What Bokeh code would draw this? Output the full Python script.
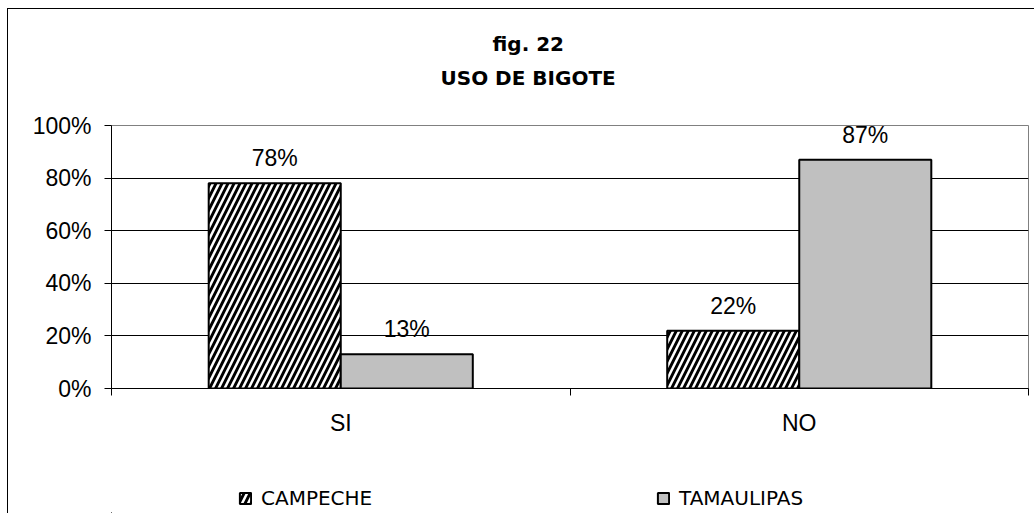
from bokeh.plotting import figure
from bokeh.layouts import column
from bokeh.models import (ColumnDataSource, FixedTicker, NumeralTickFormatter, Range1d,
                          LabelSet, Title, Legend, LegendItem)
from bokeh.core.properties import value
from bokeh.embed import file_html
from bokeh.resources import INLINE

# ---- data ----
categories = ["SI", "NO"]
series_names = ["CAMPECHE", "TAMAULIPAS"]
campeche = [0.78, 0.22]
tamaulipas = [0.13, 0.87]
y_ticks = [0, 0.2, 0.4, 0.6, 0.8, 1.0]
title_lines = ["fig. 22", "USO DE BIGOTE"]

AXIS_FONT = "Liberation Sans"
CASUAL_FONT = "DejaVu Sans"

HATCHED = dict(fill_color="black", hatch_pattern="/", hatch_color="white",
               hatch_weight=2.5, hatch_scale=12, line_color="black", line_width=2)
GREY = dict(fill_color="#C0C0C0", line_color="black", line_width=2)

W, HM, HL = 1026, 470, 34
n = len(categories)
p = figure(width=W, height=HM, output_backend="svg", toolbar_location=None,
           x_range=Range1d(0, n), y_range=Range1d(0, 1),
           min_border_left=103, min_border_right=6, min_border_top=116, min_border_bottom=91)
p.background_fill_color = "white"
p.border_fill_color = "white"
p.outline_line_color = "#808080"
p.outline_line_width = 1

bw = 0.288
centers = [i + 0.5 for i in range(n)]
fmt = lambda v: f"{round(v * 100)}%"
src_c = ColumnDataSource(dict(x=[c - bw / 2 for c in centers], top=campeche,
                              label=[fmt(v) for v in campeche]))
src_t = ColumnDataSource(dict(x=[c + bw / 2 for c in centers], top=tamaulipas,
                              label=[fmt(v) for v in tamaulipas]))

p.vbar(x="x", top="top", bottom=0, width=bw, source=src_c, **HATCHED)
p.vbar(x="x", top="top", bottom=0, width=bw, source=src_t, **GREY)

for src in (src_c, src_t):
    p.add_layout(LabelSet(x="x", y="top", text="label", source=src, text_align="center",
                          text_baseline="alphabetic", y_offset=17, text_font=value(AXIS_FONT),
                          text_font_size="23px", text_color="black"))

# x axis: labels at category centres, tick marks at category boundaries
xa = p.xaxis[0]
xa.ticker = FixedTicker(ticks=centers, minor_ticks=list(range(n + 1)))
xa.major_label_overrides = {c: lab for c, lab in zip(centers, categories)}
xa.major_tick_out = 0
xa.major_tick_in = 0
xa.minor_tick_out = 7
xa.minor_tick_in = 0
xa.minor_tick_line_color = "black"
xa.axis_line_color = "black"
xa.major_label_standoff = 14
xa.major_label_text_font = AXIS_FONT
xa.major_label_text_font_size = "23px"
xa.major_label_text_color = "black"

ya = p.yaxis[0]
ya.ticker = FixedTicker(ticks=y_ticks, minor_ticks=[])
ya.formatter = NumeralTickFormatter(format="0%")
ya.major_tick_out = 7
ya.major_tick_in = 0
ya.major_tick_line_color = "black"
ya.axis_line_color = "black"
ya.major_label_standoff = 13
ya.major_label_text_font = AXIS_FONT
ya.major_label_text_font_size = "23px"
ya.major_label_text_color = "black"

p.xgrid.visible = False
p.ygrid.ticker = FixedTicker(ticks=y_ticks[1:-1])
p.ygrid.grid_line_color = "black"
p.ygrid.grid_line_width = 1

# titles: first added sits closest to the frame (a blank spacer first)
p.add_layout(Title(text=" ", text_font_size="1px", standoff=33), "above")
p.add_layout(Title(text=title_lines[1], align="left", offset=329, standoff=0,
                   text_font=CASUAL_FONT, text_font_style="bold", text_font_size="20px",
                   text_color="black"), "above")
p.add_layout(Title(text=title_lines[0], align="left", offset=381, standoff=16,
                   text_font=CASUAL_FONT, text_font_style="bold", text_font_size="20px",
                   text_color="black"), "above")

# legend strip below the chart (same sources; its ranges keep the bars out of view)
lg = figure(width=W, height=HL, output_backend="svg", toolbar_location=None,
            x_axis_type=None, y_axis_type=None, min_border=0,
            x_range=Range1d(50, 51), y_range=Range1d(50, 51))
lg.outline_line_color = None
lg.background_fill_color = None
lg.border_fill_color = None
lg.xgrid.visible = False
lg.ygrid.visible = False
l1 = lg.vbar(x="x", top="top", bottom=0, width=bw, source=src_c, **HATCHED)
l2 = lg.vbar(x="x", top="top", bottom=0, width=bw, source=src_t, **GREY)
legend = Legend(items=[LegendItem(label=series_names[0], renderers=[l1]),
                       LegendItem(label=series_names[1], renderers=[l2])],
                orientation="horizontal", location=(127, 3), padding=0, margin=0,
                spacing=0, glyph_width=14, glyph_height=14, label_standoff=9,
                label_width=395, label_height=14, border_line_color=None,
                background_fill_alpha=0, label_text_font=CASUAL_FONT,
                label_text_font_size="20px", label_text_color="black")
lg.add_layout(legend, "center")

layout = column(p, lg, spacing=0)
layout.styles = {"margin-left": "7px", "margin-top": "8px",
                 "border-left": "1px solid #000000", "border-top": "1px solid #000000"}

open("out.html", "w").write(file_html(layout, INLINE))
